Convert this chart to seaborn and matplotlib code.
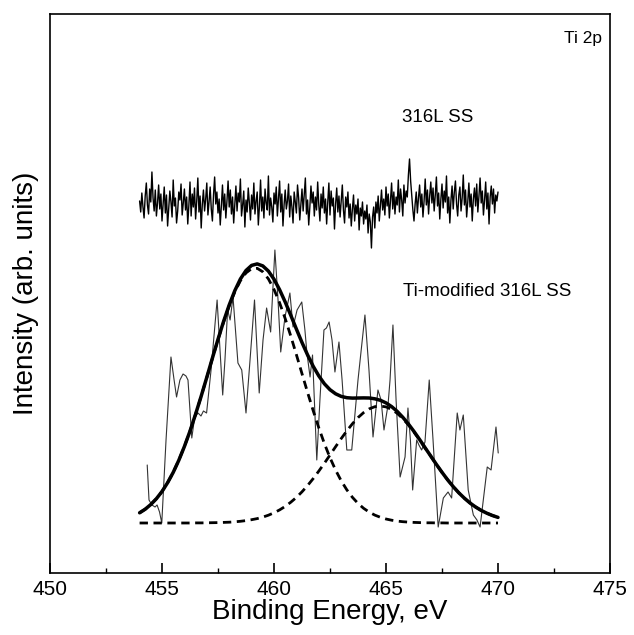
import numpy as np
import pandas as pd
import matplotlib.pyplot as plt
from matplotlib.ticker import MultipleLocator, NullLocator
import seaborn as sns

# 316L SS: noisy Ti 2p region (0.05 eV step, 454.0 - 470.0 eV)
ss_energy = np.round(np.arange(454.0, 470.001, 0.05), 2)
ss_counts = [
    372, 361, 380, 366, 355, 377, 390, 368, 359, 384, 371, 401, 375, 362, 383, 357, 370, 388, 364, 379,
    352, 369, 386, 360, 378, 347, 365, 382, 371, 356, 393, 367, 375, 350, 362, 381, 373, 389, 358, 370,
    384, 363, 376, 349, 368, 391, 357, 379, 366, 385, 354, 372, 395, 361, 377, 345, 369, 383, 362, 374,
    390, 358, 371, 386, 364, 352, 378, 396, 369, 381, 360, 374, 348, 367, 388, 363, 379, 355, 372, 392,
    366, 383, 359, 376, 350, 369, 387, 362, 380, 371, 394, 357, 368, 382, 346, 373, 361, 385, 370, 353,
    378, 364, 390, 359, 372, 381, 348, 367, 393, 362, 376, 355, 384, 370, 363, 397, 358, 375, 366, 351,
    380, 369, 386, 357, 374, 392, 361, 379, 347, 368, 383, 364, 372, 389, 356, 377, 366, 350, 381, 371,
    360, 388, 375, 353, 369, 384, 362, 378, 395, 359, 373, 348, 366, 387, 370, 381, 357, 376, 363, 391,
    368, 352, 379, 365, 386, 360, 374, 349, 371, 390, 358, 382, 367, 375, 344, 369, 385, 361, 377, 356,
    372, 388, 363, 350, 376, 366, 381, 355, 369, 347, 364, 378, 352, 368, 359, 374, 343, 365, 357, 371,
    349, 362, 354, 368, 340, 359, 351, 325, 356, 366, 345, 371, 360, 377, 352, 368, 383, 363, 374, 358,
    386, 367, 379, 355, 372, 390, 364, 381, 359, 376, 368, 393, 361, 384, 373, 357, 388, 370, 382, 376,
    398, 414, 392, 377, 363, 352, 369, 381, 360, 375, 388, 366, 379, 356, 372, 394, 368, 383, 359, 377,
    391, 370, 385, 362, 378, 396, 367, 380, 354, 374, 389, 365, 382, 371, 397, 360, 376, 350, 373, 387,
    364, 381, 392, 369, 357, 378, 386, 362, 375, 398, 368, 383, 356, 371, 390, 366, 379, 352, 374, 385,
    367, 389, 361, 377, 395, 370, 382, 358, 373, 391, 364, 380, 349, 376, 387, 369, 384, 360, 378, 372,
    381,
]

# Ti-modified 316L SS: raw spectrum
ti_energy = [
    454.34, 454.42, 454.55, 454.69, 454.78, 454.89, 454.99, 455.18, 455.40, 455.54,
    455.65, 455.80, 455.94, 456.07, 456.16, 456.33, 456.41, 456.47, 456.61, 456.74,
    456.85, 456.99, 457.19, 457.46, 457.59, 457.71, 457.81, 457.93, 458.04, 458.17,
    458.39, 458.56, 458.75, 458.93, 459.13, 459.34, 459.51, 459.67, 459.85, 460.04,
    460.18, 460.30, 460.49, 460.71, 460.85, 461.03, 461.24, 461.38, 461.47, 461.61,
    461.72, 461.91, 462.05, 462.23, 462.34, 462.46, 462.59, 462.72, 462.90, 463.04,
    463.25, 463.47, 463.75, 464.06, 464.24, 464.42, 464.64, 464.78, 464.91, 465.09,
    465.18, 465.31, 465.45, 465.63, 465.85, 465.98, 466.09, 466.19, 466.37, 466.47,
    466.59, 466.74, 466.93, 467.10, 467.33, 467.56, 467.77, 467.93, 468.18, 468.30,
    468.45, 468.67, 468.90, 469.06, 469.20, 469.52, 469.69, 469.91, 470.01,
]
ti_counts = [
    108, 73, 68, 66, 68, 61, 50, 133, 216, 193,
    176, 193, 199, 197, 193, 135, 148, 156, 160, 157,
    162, 160, 203, 273, 223, 178, 213, 263, 253, 276,
    210, 203, 160, 213, 273, 180, 233, 265, 241, 323,
    273, 221, 256, 280, 246, 263, 271, 243, 220, 196,
    218, 113, 173, 243, 245, 251, 233, 201, 231, 193,
    123, 123, 193, 258, 203, 136, 183, 173, 143, 168,
    193, 248, 173, 96, 116, 165, 133, 83, 133, 128,
    123, 131, 193, 133, 46, 75, 81, 75, 160, 143,
    158, 83, 58, 53, 46, 106, 103, 146, 120,
]

# curve fitting (0.25 eV step, 454.0 - 470.0 eV)
fit_energy = np.round(np.arange(454.0, 470.001, 0.25), 2)
fit_peak1 = [
    60.2, 63.8, 68.5, 74.3, 81.5, 90.3, 100.6, 112.7, 126.5, 141.9,
    158.8, 176.8, 195.5, 214.6, 233.3, 251.0, 267.2, 281.1, 292.3, 300.1,
    304.3, 304.7, 301.2, 294.1, 283.6, 270.2, 254.4, 236.9, 218.3, 199.3,
    180.5, 162.3, 145.2, 129.4, 115.3, 102.9, 92.2, 83.2, 75.7, 69.6,
    64.7, 60.9, 57.9, 55.7, 54.0, 52.8, 51.9, 51.3, 50.9, 50.6,
    50.4, 50.2, 50.2, 50.1, 50.1, 50.0, 50.0, 50.0, 50.0, 50.0,
    50.0, 50.0, 50.0, 50.0, 50.0,
]
fit_peak2 = [
    50.0, 50.0, 50.0, 50.0, 50.0, 50.0, 50.0, 50.0, 50.0, 50.0,
    50.1, 50.1, 50.2, 50.3, 50.4, 50.6, 50.8, 51.2, 51.7, 52.4,
    53.3, 54.4, 55.9, 57.8, 60.2, 63.1, 66.6, 70.8, 75.6, 81.2,
    87.5, 94.4, 101.9, 109.8, 118.0, 126.3, 134.4, 142.1, 149.2, 155.4,
    160.4, 164.1, 166.3, 167.0, 166.1, 163.6, 159.7, 154.4, 148.1, 140.9,
    133.1, 124.9, 116.7, 108.5, 100.6, 93.2, 86.4, 80.2, 74.8, 70.0,
    66.0, 62.6, 59.8, 57.5, 55.6,
]
fit_sum = [
    60.2, 63.8, 68.5, 74.3, 81.5, 90.3, 100.6, 112.7, 126.5, 141.9,
    158.9, 176.9, 195.7, 214.9, 233.7, 251.6, 268.0, 282.3, 294.0, 302.5,
    307.6, 309.1, 307.1, 301.9, 293.8, 283.3, 271.0, 257.7, 243.9, 230.5,
    218.0, 206.7, 197.1, 189.2, 183.3, 179.2, 176.6, 175.3, 174.9, 175.0,
    175.1, 175.0, 174.2, 172.7, 170.1, 166.4, 161.6, 155.7, 149.0, 141.5,
    133.5, 125.1, 116.9, 108.6, 100.7, 93.2, 86.4, 80.2, 74.8, 70.0,
    66.0, 62.6, 59.8, 57.5, 55.6,
]

sns.set_theme(style="white")
plt.rcParams['font.family'] = ['Liberation Sans', 'DejaVu Sans']
plt.rcParams['text.color'] = 'black'
plt.rcParams['axes.labelcolor'] = 'black'
plt.rcParams['xtick.color'] = 'black'

df_ss = pd.DataFrame({'E': ss_energy, 'I': ss_counts})
df_ti = pd.DataFrame({'E': ti_energy, 'I': ti_counts})
df_fit = pd.DataFrame({'E': fit_energy, 'p1': fit_peak1, 'p2': fit_peak2, 'sum': fit_sum})

fig = plt.figure(figsize=(6.34, 6.35), dpi=100)
ax = fig.add_axes([50 / 634, 62 / 635, 560 / 634, 559 / 635])

# raw spectra
sns.lineplot(data=df_ss, x='E', y='I', ax=ax, color='black', lw=1.0, sort=False)
sns.lineplot(data=df_ti, x='E', y='I', ax=ax, color='#333333', lw=0.8, sort=False)

# fitted components + envelope
sns.lineplot(data=df_fit, x='E', y='p1', ax=ax, color='black', lw=2.0, linestyle=(0, (3, 2)))
sns.lineplot(data=df_fit, x='E', y='p2', ax=ax, color='black', lw=2.0, linestyle=(0, (3, 2)))
sns.lineplot(data=df_fit, x='E', y='sum', ax=ax, color='black', lw=2.5)

ax.set_xlim(450, 475)
ax.set_ylim(0, 559)
ax.xaxis.set_major_locator(MultipleLocator(5))
ax.xaxis.set_minor_locator(MultipleLocator(2.5))
ax.yaxis.set_major_locator(NullLocator())
ax.tick_params(axis='x', which='major', direction='in', length=7, width=1.2,
               labelsize=15, pad=5, bottom=True, top=False)
ax.tick_params(axis='x', which='minor', direction='in', length=3.5, width=1.0,
               bottom=True, top=False)
for s in ax.spines.values():
    s.set_color('black')
    s.set_linewidth(1.2)

ax.set_xlabel("Binding Energy, eV", fontsize=20, labelpad=0)
ax.set_ylabel("Intensity (arb. units)", fontsize=20, labelpad=8)

ax.text(474.65, 535, "Ti 2p", fontsize=12.5, ha='right', va='center')
ax.text(467.3, 456, "316L SS", fontsize=13.5, ha='center', va='center')
ax.text(465.75, 282, "Ti-modified 316L SS", fontsize=13.5, ha='left', va='center')

plt.savefig('out.png', dpi=100)
plt.close()
